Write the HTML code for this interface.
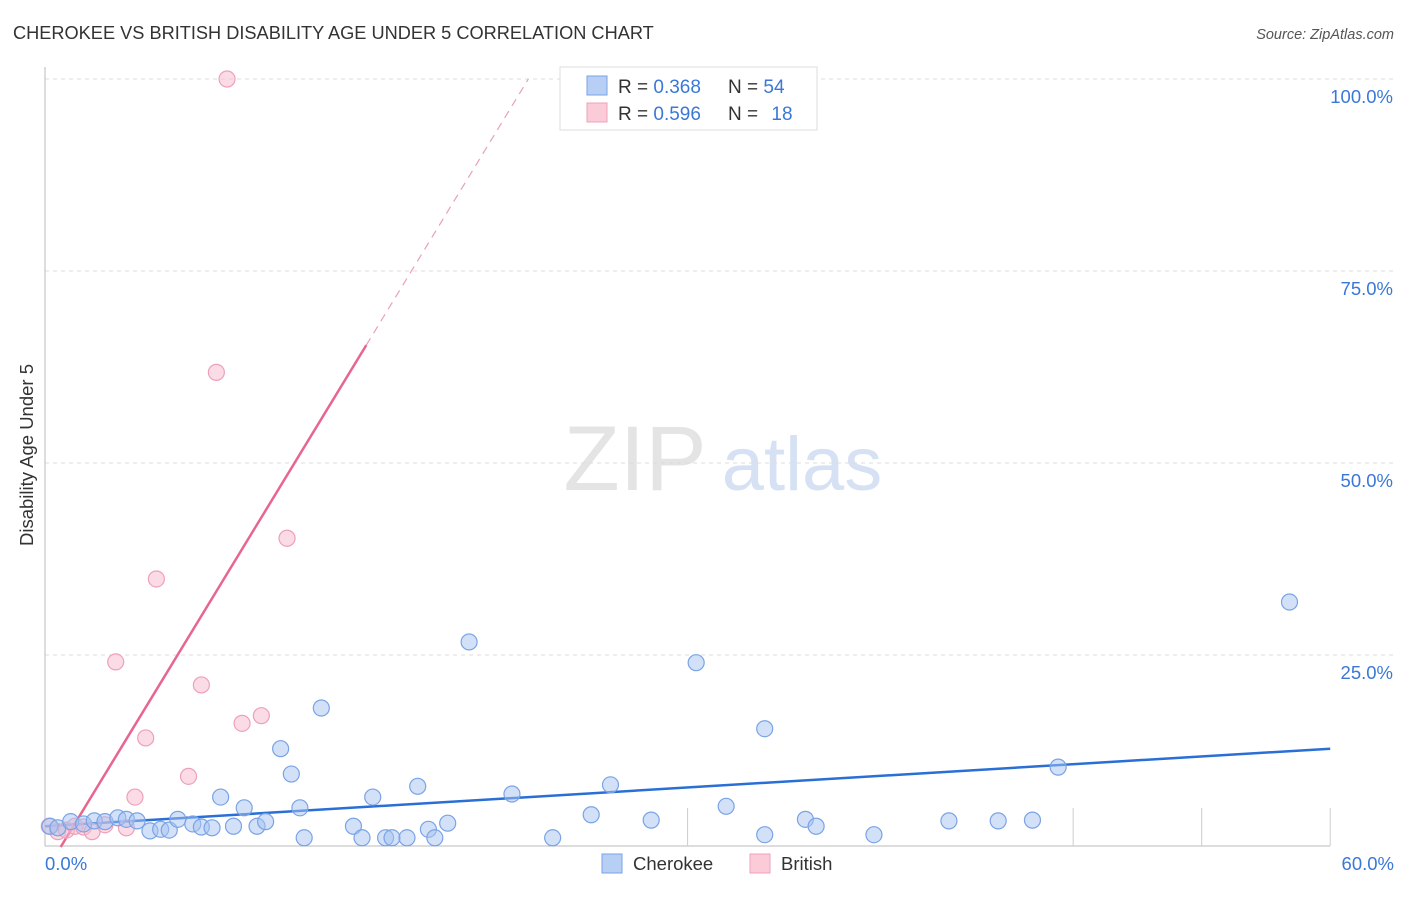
<!DOCTYPE html>
<html><head><meta charset="utf-8"><style>
body{margin:0;background:#fff;font-family:"Liberation Sans",sans-serif}
svg text{font-family:"Liberation Sans",sans-serif}
</style></head><body>
<svg id="chart" width="1406" height="892" xmlns="http://www.w3.org/2000/svg">
<text x="13" y="39" font-size="18.2" fill="#333">CHEROKEE VS BRITISH DISABILITY AGE UNDER 5 CORRELATION CHART</text>
<text x="1394" y="39" font-size="14.5" fill="#555" text-anchor="end" font-style="italic">Source: ZipAtlas.com</text>
<text transform="translate(33,455) rotate(-90)" font-size="18.5" fill="#333" text-anchor="middle">Disability Age Under 5</text>
<g>
<text x="635" y="490" font-size="92" fill="#e4e4e4" font-family="Liberation Serif" text-anchor="middle">ZIP</text>
<text x="802" y="490" font-size="76" fill="#d6e2f4" text-anchor="middle">atlas</text>
</g>
<g id="grid"></g>
<g id="lines"></g>
<g id="pts"></g>
<g>
<rect x="560" y="67" width="257" height="63" fill="#fff" stroke="#ddd"/>
<rect x="587" y="76" width="20" height="19" fill="#b7cff5" stroke="#7aa3e5"/>
<rect x="587" y="103" width="20" height="19" fill="#fbcbd8" stroke="#eea0b8"/>
<text x="618" y="93" font-size="19" fill="#333">R = <tspan fill="#3a78d8">0.368</tspan></text>
<text x="728" y="93" font-size="19" fill="#333">N = <tspan fill="#3a78d8">54</tspan></text>
<text x="618" y="120" font-size="19" fill="#333">R = <tspan fill="#3a78d8">0.596</tspan></text>
<text x="728" y="120" font-size="19" fill="#333">N = <tspan fill="#3a78d8" dx="8">18</tspan></text>
</g>
<g>
<rect x="602" y="854" width="20" height="19" fill="#b7cff5" stroke="#7aa3e5"/>
<text x="633" y="870" font-size="18.5" fill="#333">Cherokee</text>
<rect x="750" y="854" width="20" height="19" fill="#fbcbd8" stroke="#eea0b8"/>
<text x="781" y="870" font-size="18.5" fill="#333">British</text>
</g>
</svg>
<script>
const cherokeeX=[0.23,0.6,1.2,1.8,2.3,2.8,3.4,3.8,4.3,4.9,5.4,5.8,6.2,6.9,7.3,7.8,8.2,8.8,9.3,9.9,10.3,11.0,11.5,11.9,12.1,12.9,14.4,14.8,15.3,15.9,16.2,16.9,17.4,17.9,18.2,18.8,19.8,21.8,23.7,25.5,26.4,28.3,30.4,31.8,33.6,33.6,35.5,36.0,38.7,42.2,44.5,46.1,47.3,58.1];
const cherokeeY=[2.7,2.5,3.3,3.0,3.4,3.3,3.8,3.6,3.4,2.1,2.3,2.2,3.6,3.0,2.6,2.5,6.5,2.7,5.1,2.7,3.3,12.8,9.5,5.1,1.2,18.1,2.7,1.2,6.5,1.2,1.2,1.2,7.9,2.3,1.2,3.1,26.7,6.9,1.2,4.2,8.1,3.5,24.0,5.3,15.4,1.6,3.6,2.7,1.6,3.4,3.4,3.5,10.4,31.9];
const britishX=[0.2,0.6,1.0,1.4,1.8,2.2,2.8,3.3,3.8,4.2,4.7,5.2,6.7,7.3,8.0,8.5,9.2,10.1,11.3];
const britishY=[2.7,2.0,2.2,2.7,2.6,2.0,2.9,24.1,2.5,6.5,14.2,34.9,9.2,21.1,61.8,100,16.1,17.1,40.2];
const yTicks=[25,50,75,100];
const yTickLabels=["25.0%","50.0%","75.0%","100.0%"];
const xTicks=[30,48,54,60];
const cherokeeFit=[2.7,12.8];
const britishFit=[-3.35,4.58];
const X=v=>45+v*21.42, Y=v=>847-v*7.68;
const NS="http://www.w3.org/2000/svg";
function mk(p,t,a){const e=document.createElementNS(NS,t);for(const k in a)e.setAttribute(k,a[k]);p.appendChild(e);return e;}
const grid=document.getElementById('grid');
yTicks.forEach((t,i)=>{
 const l=mk(grid,'line',{x1:45,x2:1395,y1:Y(t),y2:Y(t),stroke:'#ddd','stroke-dasharray':'4,4'});
 
 
 const tx=mk(grid,'text',{x:1393,y:Y(t)+24,'font-size':18.5,fill:'#3a78d8','text-anchor':'end'});
 tx.textContent=yTickLabels[i];
 
 
});
const ax=mk(grid,'line',{x1:45,x2:1330,y1:846,y2:846,stroke:'#bbb'});


const ay=mk(grid,'line',{x1:45,x2:45,y1:67,y2:846,stroke:'#bbb'});


xTicks.forEach(t=>{const l=mk(grid,'line',{x1:X(t),x2:X(t),y1:808,y2:846,stroke:'#ccc'});
 
 });
const x0=mk(grid,'text',{x:45,y:870,'font-size':18.5,fill:'#3a78d8'});x0.textContent='0.0%';


const x1=mk(grid,'text',{x:1394,y:870,'font-size':18.5,fill:'#3a78d8','text-anchor':'end'});x1.textContent='60.0%';


const lines=document.getElementById('lines');
const bl=mk(lines,'line',{x1:X(0),y1:Y(cherokeeFit[0]),x2:X(60),y2:Y(cherokeeFit[1]),stroke:'#2a6fd6','stroke-width':2.5});


const pf=x=>britishFit[0]+britishFit[1]*x;
const xs=-britishFit[0]/britishFit[1], xm=15.0, xe=(100-britishFit[0])/britishFit[1];
const pl=mk(lines,'line',{x1:X(xs),y1:Y(pf(xs)),x2:X(xm),y2:Y(pf(xm)),stroke:'#e8668e','stroke-width':2.5});


const pd=mk(lines,'line',{x1:X(xm),y1:Y(pf(xm)),x2:X(xe),y2:Y(pf(xe)),stroke:'#e8a0b5','stroke-width':1.2,'stroke-dasharray':'8,6'});


const pts=document.getElementById('pts');
britishX.forEach((x,i)=>{const c=mk(pts,'circle',{cx:X(x),cy:Y(britishY[i]),r:8,fill:'rgba(248,185,205,0.5)',stroke:'#eea0b8','stroke-width':1.2});
 
 });
cherokeeX.forEach((x,i)=>{const c=mk(pts,'circle',{cx:X(x),cy:Y(cherokeeY[i]),r:8,fill:'rgba(165,195,242,0.5)',stroke:'#7aa3e5','stroke-width':1.2});
 
 });
</script>
</body></html>
